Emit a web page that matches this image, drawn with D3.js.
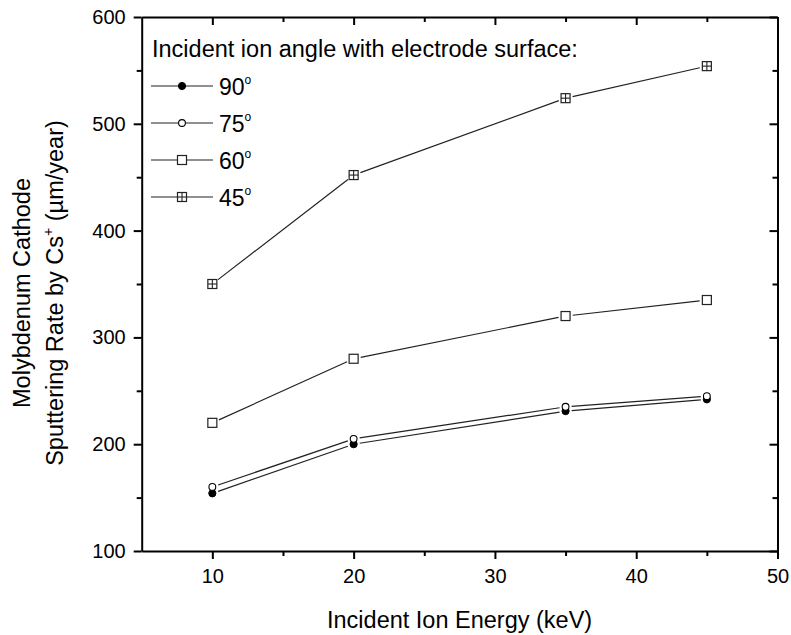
<!DOCTYPE html>
<html>
<head>
<meta charset="utf-8">
<script src="https://cdn.jsdelivr.net/npm/d3@7"></script>
<style>
  body { margin: 0; background: #fff; }
  text { font-family: "Liberation Sans", Arial, sans-serif; fill: #000; }
</style>
</head>
<body>
<svg id="chart" width="791" height="635"></svg>
<script>
// Sputtering rate of a molybdenum cathode by Cs+ ions (µm/year)
const energies = [10, 20, 35, 45];          // incident ion energy, keV
const rate90 = [154, 200, 231, 242];
const rate75 = [160, 205, 235, 245];
const rate60 = [220, 280, 320, 335];
const rate45 = [350, 452, 524, 554];
const angleLabels = ["90", "75", "60", "45"];
const markerKinds = ["filledCircle", "openCircle", "openSquare", "plusSquare"];
const xMajorTicks = [10, 20, 30, 40, 50];
const xMinorTicks = [15, 25, 35, 45];
const yMajorTicks = [100, 200, 300, 400, 500, 600];
const yMinorTicks = [150, 250, 350, 450, 550];

const seriesValues = [rate90, rate75, rate60, rate45];

const svg = d3.select("#chart");
const plotLeft = 141.7, plotRight = 777.5, plotTop = 17, plotBottom = 551;

const x = d3.scaleLinear().domain([5, 50]).range([plotLeft, plotRight]);
const y = d3.scaleLinear().domain([100, 600]).range([plotBottom, plotTop]);

const tickFont = 20;
const titleFont = 23.5;
const major = 8, minor = 5;

function styleAxis(g) {
  g.select(".domain").attr("stroke", "#000").attr("stroke-width", 2);
  g.selectAll(".tick line").attr("stroke", "#000").attr("stroke-width", 2);
  g.selectAll(".tick text")
    .style("font-family", '"Liberation Sans", Arial, sans-serif')
    .style("font-size", tickFont + "px")
    .attr("fill", "#000");
}

// bottom axis (ticks outward)
svg.append("g").attr("transform", `translate(0,${plotBottom})`)
  .call(d3.axisBottom(x).tickValues(xMajorTicks).tickSize(major).tickSizeOuter(0).tickPadding(10).tickFormat(d3.format("d")))
  .call(styleAxis);
svg.append("g").attr("transform", `translate(0,${plotBottom})`)
  .call(d3.axisBottom(x).tickValues(xMinorTicks).tickSize(minor).tickSizeOuter(0).tickFormat(""))
  .call(styleAxis).select(".domain").remove();

// left axis (ticks outward)
svg.append("g").attr("transform", `translate(${plotLeft},0)`)
  .call(d3.axisLeft(y).tickValues(yMajorTicks).tickSize(major).tickSizeOuter(0).tickPadding(8).tickFormat(d3.format("d")))
  .call(styleAxis);
svg.append("g").attr("transform", `translate(${plotLeft},0)`)
  .call(d3.axisLeft(y).tickValues(yMinorTicks).tickSize(minor).tickSizeOuter(0).tickFormat(""))
  .call(styleAxis).select(".domain").remove();

// top axis (ticks inward, no labels)
svg.append("g").attr("transform", `translate(0,${plotTop})`)
  .call(d3.axisTop(x).tickValues(xMajorTicks).tickSize(-major).tickSizeOuter(0).tickFormat(""))
  .call(styleAxis);
svg.append("g").attr("transform", `translate(0,${plotTop})`)
  .call(d3.axisTop(x).tickValues(xMinorTicks).tickSize(-minor).tickSizeOuter(0).tickFormat(""))
  .call(styleAxis).select(".domain").remove();

// right axis (ticks inward, no labels)
svg.append("g").attr("transform", `translate(${plotRight},0)`)
  .call(d3.axisRight(y).tickValues(yMajorTicks).tickSize(-major).tickSizeOuter(0).tickFormat(""))
  .call(styleAxis);
svg.append("g").attr("transform", `translate(${plotRight},0)`)
  .call(d3.axisRight(y).tickValues(yMinorTicks).tickSize(-minor).tickSizeOuter(0).tickFormat(""))
  .call(styleAxis).select(".domain").remove();

// marker drawing
const markerHalf = { filledCircle: 3.6, openCircle: 3.6, openSquare: 4.7, plusSquare: 4.7 };
function drawMarker(g, kind, cx, cy) {
  if (kind === "filledCircle") {
    g.append("circle").attr("cx", cx).attr("cy", cy).attr("r", 3.6)
      .attr("fill", "#000").attr("stroke", "#000").attr("stroke-width", 1);
  } else if (kind === "openCircle") {
    g.append("circle").attr("cx", cx).attr("cy", cy).attr("r", 3.4)
      .attr("fill", "#fff").attr("stroke", "#000").attr("stroke-width", 1.1);
  } else {
    const h = 4.5;
    g.append("rect").attr("x", cx - h).attr("y", cy - h).attr("width", 2 * h).attr("height", 2 * h)
      .attr("fill", "#fff").attr("stroke", "#222").attr("stroke-width", 1.2);
    if (kind === "plusSquare") {
      g.append("line").attr("x1", cx - h).attr("x2", cx + h).attr("y1", cy).attr("y2", cy)
        .attr("stroke", "#222").attr("stroke-width", 1.1);
      g.append("line").attr("x1", cx).attr("x2", cx).attr("y1", cy - h).attr("y2", cy + h)
        .attr("stroke", "#222").attr("stroke-width", 1.1);
    }
  }
}

// series: connecting segments stop short of each marker
const plot = svg.append("g");
seriesValues.forEach((vals, si) => {
  const kind = markerKinds[si];
  const gap = markerHalf[kind] + 2.5;
  const pts = energies.map((e, i) => [x(e), y(vals[i])]);
  for (let i = 0; i < pts.length - 1; i++) {
    const [x1, y1] = pts[i], [x2, y2] = pts[i + 1];
    const len = Math.hypot(x2 - x1, y2 - y1);
    const ux = (x2 - x1) / len, uy = (y2 - y1) / len;
    plot.append("line")
      .attr("x1", x1 + ux * gap).attr("y1", y1 + uy * gap)
      .attr("x2", x2 - ux * gap).attr("y2", y2 - uy * gap)
      .attr("stroke", "#222").attr("stroke-width", 1.2);
  }
  pts.forEach(([px, py]) => drawMarker(plot, kind, px, py));
});

// legend
const legend = svg.append("g");
legend.append("text").attr("x", 152).attr("y", 57)
  .style("font-size", titleFont + "px").text("Incident ion angle with electrode surface:");
const rowY = [86, 123, 160, 197];
angleLabels.forEach((lab, i) => {
  const yy = rowY[i];
  legend.append("line").attr("x1", 151).attr("x2", 213).attr("y1", yy).attr("y2", yy)
    .attr("stroke", "#222").attr("stroke-width", 1.2);
  drawMarker(legend, markerKinds[i], 182, yy);
  const t = legend.append("text").attr("x", 219).attr("y", yy + 8.5).style("font-size", "23px");
  t.append("tspan").text(lab);
  t.append("tspan").attr("dy", -11).style("font-size", "12px").text("o");
});

// axis titles
svg.append("text").attr("x", (plotLeft + plotRight) / 2).attr("y", 628)
  .attr("text-anchor", "middle").style("font-size", titleFont + "px")
  .text("Incident Ion Energy (keV)");

const yTitle = svg.append("g").attr("transform", "translate(0,293) rotate(-90)");
yTitle.append("text").attr("x", 0).attr("y", 30).attr("text-anchor", "middle")
  .style("font-size", titleFont + "px").text("Molybdenum Cathode");
const l2 = yTitle.append("text").attr("x", 0).attr("y", 63).attr("text-anchor", "middle")
  .style("font-size", titleFont + "px");
l2.append("tspan").text("Sputtering Rate by Cs");
l2.append("tspan").attr("dy", -10).style("font-size", "14px").text("+");
l2.append("tspan").attr("dy", 10).text(" (\u00b5m/year)");
</script>
</body>
</html>
